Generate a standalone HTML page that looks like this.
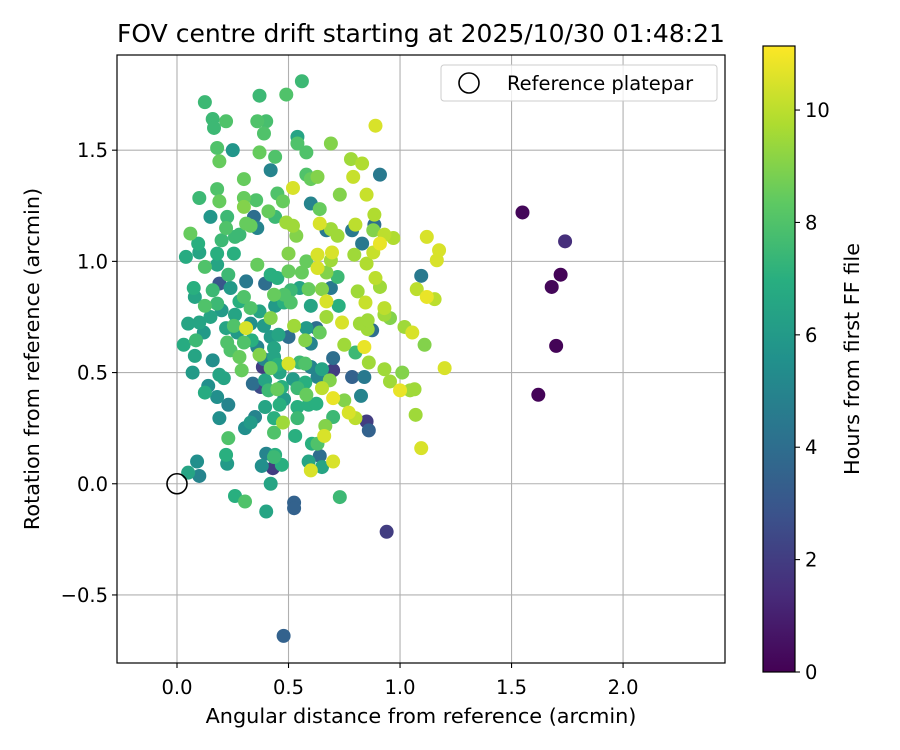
<!DOCTYPE html>
<html><head><meta charset="utf-8"><title>FOV centre drift</title>
<style>
html,body{margin:0;padding:0;background:#fff;}
svg{display:block;font-family:"DejaVu Sans","Liberation Sans",sans-serif;}
</style></head>
<body>
<svg id="chart" width="900" height="750" viewBox="0 0 900 750">
  <defs>
    <linearGradient id="vgrad" x1="0" y1="1" x2="0" y2="0">
      <stop offset="0" stop-color="#440154"/>
      <stop offset="0.125" stop-color="#472c7a"/>
      <stop offset="0.25" stop-color="#3b528b"/>
      <stop offset="0.375" stop-color="#2c728e"/>
      <stop offset="0.5" stop-color="#21918c"/>
      <stop offset="0.625" stop-color="#28ae80"/>
      <stop offset="0.75" stop-color="#5ec962"/>
      <stop offset="0.875" stop-color="#addc30"/>
      <stop offset="1" stop-color="#fde725"/>
    </linearGradient>
    <clipPath id="plotclip"><rect x="117" y="55" width="608" height="608"/></clipPath>
  </defs>
  <text x="421" y="42" text-anchor="middle" font-size="25" fill="#000">FOV centre drift starting at 2025/10/30 01:48:21</text>
  <g id="grid"></g>
  <g id="points" clip-path="url(#plotclip)"></g>
  <circle id="refpt" r="10" fill="none" stroke="#000" stroke-width="1.6"/>
  <rect x="117" y="55" width="608" height="608" fill="none" stroke="#000" stroke-width="1.2"/>
  <g id="xticks"></g>
  <g id="yticks"></g>
  <text x="421" y="723" text-anchor="middle" font-size="20.8">Angular distance from reference (arcmin)</text>
  <text transform="translate(39,359) rotate(-90)" text-anchor="middle" font-size="20.8">Rotation from reference (arcmin)</text>
  <g>
    <rect x="441" y="65" width="276" height="36" rx="3" fill="#fff" fill-opacity="0.8" stroke="#ccc" stroke-width="1"/>
    <circle cx="469" cy="83" r="10" fill="none" stroke="#000" stroke-width="1.6"/>
    <text x="507" y="90" font-size="19.5">Reference platepar</text>
  </g>
  <rect x="763" y="46" width="32" height="626" fill="url(#vgrad)" stroke="#000" stroke-width="1.2"/>
  <g id="cticks"></g>
  <text transform="translate(859,359) rotate(-90)" text-anchor="middle" font-size="20.8">Hours from first FF file</text>
</svg>
<script>
const xVals = [0.125,0.16,0.166,0.22,0.37,0.36,0.40,0.39,0.49,0.56,0.54,0.54,0.58,0.69,0.89,0.18,0.19,0.25,0.37,0.44,0.42,0.30,0.58,0.60,0.63,0.52,0.78,0.83,0.79,0.91,0.85,0.73,0.18,0.10,0.19,0.30,0.30,0.355,0.45,0.475,0.60,0.64,0.15,0.225,0.345,0.36,0.33,0.41,0.44,0.49,0.52,0.535,0.64,0.69,0.67,0.72,0.785,0.80,0.885,0.885,0.88,0.93,0.97,0.91,0.88,0.83,0.06,0.095,0.10,0.04,0.20,0.22,0.26,0.28,0.31,0.18,0.255,0.125,0.18,0.23,0.19,0.075,0.08,0.125,0.36,0.395,0.42,0.45,0.50,0.50,0.56,0.58,0.63,0.63,0.695,0.69,0.72,0.67,0.69,0.65,0.67,0.59,0.51,0.435,0.48,0.51,0.795,0.85,0.89,0.91,0.81,0.845,0.93,1.095,1.12,1.175,1.165,1.075,1.12,1.155,
0.05,0.03,0.08,0.07,0.085,0.125,0.14,0.16,0.18,0.19,0.19,0.21,0.23,0.225,0.24,0.28,0.30,0.29,0.31,0.335,0.255,0.18,0.10,0.35,0.305,0.33,0.23,0.22,0.225,0.09,0.10,0.05,0.26,0.305,0.40,0.42,0.38,0.40,0.43,0.44,0.47,0.435,0.525,0.525,0.73,0.60,0.70,0.65,0.59,0.64,0.63,0.605,0.66,0.665,0.70,0.77,0.80,0.85,0.86,0.53,0.54,0.435,0.475,0.435,0.395,0.46,0.54,0.59,0.625,0.65,0.65,0.685,0.70,0.75,0.58,0.575,0.54,0.45,0.47,0.41,0.395,0.375,0.385,0.42,0.45,0.50,0.55,0.575,0.60,0.63,0.70,0.70,0.785,0.84,0.825,0.86,0.84,0.93,0.955,1.01,1.00,1.045,1.065,1.07,1.095,1.02,1.055,1.11,1.20,0.75,0.80,0.875,0.855,0.93,0.955,0.82,0.855,0.74,0.67,0.64,0.625,0.575,0.525,0.50,0.455,0.42,0.39,0.37,0.33,0.30,0.48,0.36,0.37,0.435,0.435,0.725,
0.478,0.94,1.549,1.74,1.72,1.68,1.70,1.62,
0.15,0.20,0.26,0.27,0.33,0.12,0.22,0.28,0.16,0.24,0.44,0.31,0.55,0.60,0.58,0.46,0.52,0.48,0.39,0.34,0.42,0.60];
const yVals = [1.716,1.64,1.60,1.63,1.745,1.63,1.63,1.575,1.75,1.81,1.56,1.53,1.49,1.53,1.61,1.51,1.45,1.50,1.49,1.47,1.41,1.37,1.39,1.37,1.38,1.33,1.46,1.44,1.38,1.39,1.30,1.30,1.325,1.285,1.27,1.285,1.245,1.275,1.305,1.27,1.26,1.235,1.20,1.20,1.20,1.15,1.16,1.225,1.20,1.175,1.16,1.115,1.17,1.145,1.14,1.115,1.14,1.165,1.21,1.165,1.14,1.12,1.105,1.08,1.04,1.08,1.125,1.08,1.04,1.02,1.095,1.15,1.11,1.12,1.17,1.035,1.035,0.975,0.985,0.94,0.90,0.88,0.84,0.80,0.985,0.90,0.94,0.925,0.955,1.035,0.95,1.00,0.97,1.03,1.04,1.005,0.93,0.95,0.88,0.875,0.82,0.875,0.87,0.85,0.815,0.815,1.03,0.99,0.925,0.885,0.865,0.815,0.79,0.935,1.11,1.05,1.005,0.875,0.84,0.83,
0.72,0.625,0.575,0.50,0.645,0.41,0.44,0.555,0.39,0.295,0.49,0.475,0.355,0.635,0.60,0.57,0.635,0.51,0.70,0.645,0.71,0.81,0.725,0.30,0.25,0.275,0.205,0.13,0.09,0.10,0.035,0.05,-0.055,-0.08,-0.125,0.00,0.08,0.135,0.07,0.13,0.085,0.12,-0.085,-0.11,-0.06,0.06,0.10,0.075,0.10,0.125,0.18,0.18,0.215,0.26,0.30,0.32,0.295,0.28,0.24,0.215,0.295,0.23,0.275,0.295,0.345,0.355,0.345,0.355,0.36,0.515,0.43,0.465,0.385,0.375,0.40,0.455,0.43,0.425,0.435,0.42,0.465,0.435,0.525,0.52,0.535,0.54,0.545,0.54,0.525,0.48,0.51,0.565,0.48,0.48,0.395,0.545,0.615,0.515,0.46,0.50,0.42,0.42,0.425,0.31,0.16,0.705,0.68,0.625,0.52,0.625,0.59,0.69,0.695,0.76,0.745,0.72,0.735,0.725,0.75,0.68,0.70,0.645,0.71,0.66,0.67,0.745,0.71,0.775,0.79,0.84,0.85,0.615,0.58,0.61,0.57,0.80,
-0.684,-0.216,1.22,1.09,0.94,0.885,0.62,0.40,
0.75,0.78,0.76,0.68,0.72,0.68,0.70,0.82,0.87,0.88,0.80,0.91,0.88,0.80,0.70,0.50,0.47,0.38,0.56,0.45,0.66,0.63];
const hoursVals = [7.5,7.5,7.5,8,7.5,8,7.8,8,8,7.5,6.5,8,8,9,10.5,8,8.5,5.8,8.5,8,5,8.5,8,8.5,9,10.5,9.5,9.8,10.2,4.5,10.2,9,8,7.5,8.5,8.5,9,8,8,8.5,5,8.5,5.8,7.5,4,5,8.5,8.5,7.5,9.5,9.5,9,10.5,9.5,4.5,9.5,4.5,10,9.8,4,9,10,9.8,10.8,10.2,4.5,8.5,7,6.5,6.8,7.5,8,7.5,7.5,8.5,7,7,8,6.5,7.5,3,7,6.5,8,8.5,4,7,7,8.5,9,8.5,8.5,10.5,10.5,10.5,9.5,7.5,9,4.5,9,10.5,8.5,7.5,8.5,7,8,9.5,9.8,10,9.5,9.5,10.2,10,4.5,10.5,10.5,10.5,10,10.8,10,
6.5,6.8,6.5,6,7.5,6.8,5.5,5.5,5.5,5.5,6.5,6.5,5,8,8,8.5,8,8.5,10.5,7,8,7.5,6.5,5,5.5,6,8,7,6,5.5,5,6.5,7,8,6.5,6.5,5.5,5,2,7,7,7.5,3.5,3.5,7.5,10.5,10.5,6.5,6.5,4,8,7,10.5,9,7.5,10.5,10,2,3.5,7,7.5,8,9.5,7,6.5,7,7,7,7,6.5,10,9,10.8,9,8.5,7,7.5,8.5,7,7.5,6.5,2.5,2,8.5,7,10.5,7.5,8,5,5,2,4,3.5,4.5,5,9.5,10.8,9.5,9.5,9,10.8,9.5,9.5,9.5,10.5,9.5,10.5,9,10.5,9.5,7.5,4,9.5,9.5,9,9.5,9.5,10.5,9.5,8.5,4,9,9.5,4,6.5,9,6,6.5,8,8,8,5,9,6.5,6.5,7,
3.5,2,0.2,1.5,0.1,0.2,0.1,0.1,
6.5,6,6.5,6,5.5,6,6.5,7,7.5,6,6,4.5,6.5,6.5,6,6.5,6,6,5,4,6,5];
const xTicks = [0.0,0.5,1.0,1.5,2.0];
const xTickLabels = ["0.0","0.5","1.0","1.5","2.0"];
const yTicks = [-0.5,0.0,0.5,1.0,1.5];
const yTickLabels = ["\u22120.5","0.0","0.5","1.0","1.5"];
const cTicks = [0,2,4,6,8,10];
const cTickLabels = ["0","2","4","6","8","10"];

const X0=117,X1=725,Y0=55,Y1=663;
const XMIN=-0.269,XMAX=2.457,YMIN=-0.806,YMAX=1.928;
const CMIN=0,CMAX=11.14,CY0=46,CY1=672;
function sx(v){return X0+(v-XMIN)/(XMAX-XMIN)*(X1-X0);}
function sy(v){return Y1-(v-YMIN)/(YMAX-YMIN)*(Y1-Y0);}
function sc(v){return CY1-(v-CMIN)/(CMAX-CMIN)*(CY1-CY0);}
const VIR=[[68,1,84],[71,44,122],[59,82,139],[44,114,142],[33,145,140],[40,174,128],[94,201,98],[173,220,48],[253,231,37]];
function viridis(t){t=Math.max(0,Math.min(1,t));const f=t*8;const i=Math.min(7,Math.floor(f));const r=f-i;
 const a=VIR[i],b=VIR[i+1];return 'rgb('+a.map((c,k)=>Math.round(c+(b[k]-c)*r)).join(',')+')';}
const NS='http://www.w3.org/2000/svg';
function mk(tag,attrs){const e=document.createElementNS(NS,tag);for(const k in attrs)e.setAttribute(k,attrs[k]);return e;}
const grid=document.getElementById('grid');
const xt=document.getElementById('xticks');
const yt=document.getElementById('yticks');
const ct=document.getElementById('cticks');
xTicks.forEach((v,i)=>{
  const x=sx(v);
  const g=mk('line',{x1:x,x2:x,y1:Y0,y2:Y1,stroke:'#b0b0b0','stroke-width':1.1});
  
  
  grid.appendChild(g);
  const t=mk('line',{x1:x,x2:x,y1:Y1,y2:Y1+5,stroke:'#000','stroke-width':1.1});
  
  
  xt.appendChild(t);
  const l=mk('text',{x:x,y:Y1+31,'text-anchor':'middle','font-size':19.5});
  
  
  l.textContent=xTickLabels[i];xt.appendChild(l);
});
yTicks.forEach((v,i)=>{
  const y=sy(v);
  const g=mk('line',{x1:X0,x2:X1,y1:y,y2:y,stroke:'#b0b0b0','stroke-width':1.1});
  
  
  grid.appendChild(g);
  const t=mk('line',{x1:X0-5,x2:X0,y1:y,y2:y,stroke:'#000','stroke-width':1.1});
  
  
  yt.appendChild(t);
  const l=mk('text',{x:X0-9,y:y+7,'text-anchor':'end','font-size':19.5});
  
  
  l.textContent=yTickLabels[i];yt.appendChild(l);
});
cTicks.forEach((v,i)=>{
  const y=sc(v);
  const t=mk('line',{x1:795,x2:800,y1:y,y2:y,stroke:'#000','stroke-width':1.1});
  
  
  ct.appendChild(t);
  const l=mk('text',{x:805,y:y+7,'font-size':19.5});
  
  
  l.textContent=cTickLabels[i];ct.appendChild(l);
});
const pts=document.getElementById('points');
const order=hoursVals.map((h,i)=>i).sort((a,b)=>hoursVals[a]-hoursVals[b]);
order.forEach(i=>{
  const c=mk('circle',{cx:sx(xVals[i]),cy:sy(yVals[i]),r:7,fill:viridis((hoursVals[i]-CMIN)/(CMAX-CMIN))});
  
  
  pts.appendChild(c);
});
const rp=document.getElementById('refpt');
rp.setAttribute('cx',sx(0));rp.setAttribute('cy',sy(0));
</script>
</body></html>
